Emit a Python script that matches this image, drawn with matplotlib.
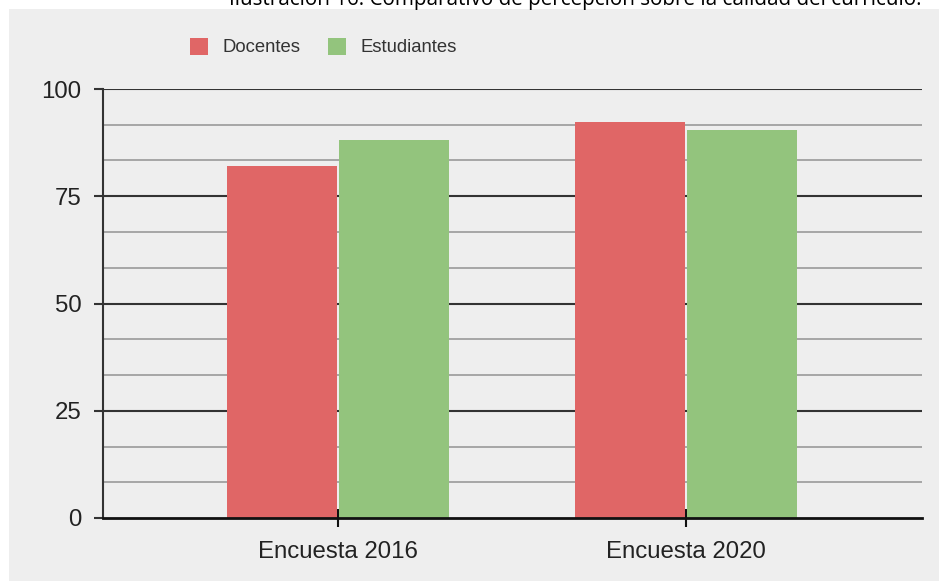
import matplotlib
matplotlib.use("Agg")
import matplotlib.pyplot as plt
from matplotlib.patches import Rectangle, Patch
import numpy as np

# Data
categories = ["Encuesta 2016", "Encuesta 2020"]
series_names = ["Docentes", "Estudiantes"]
docentes = [82, 92.3]
estudiantes = [88, 90.5]
y_ticks = [0, 25, 50, 75, 100]
title_text = "Ilustración 16: Comparativo de percepción sobre la calidad del currículo."

red = "#e06666"
green = "#93c47d"
panel = "#eeeeee"
text_col = "#222222"

W, H = 939, 585
fig = plt.figure(figsize=(W / 100, H / 100), dpi=100)
fig.patch.set_facecolor("white")

# grey panel behind the chart
fig.patches.append(Rectangle((9 / W, (H - 581) / H), 1 - 9 / W, (581 - 9) / H,
                             transform=fig.transFigure, facecolor=panel,
                             edgecolor="none", zorder=-5))

# caption, mostly clipped by the top edge
fig.text(575 / W, 1 - 5 / H, title_text, ha="center", va="baseline",
         fontsize=14.9, family="Open Sans", color="black")

ax = fig.add_axes([103 / W, (H - 518) / H, (922 - 103) / W, (518 - 89) / H])
ax.set_facecolor("none")
ax.set_zorder(2)

x = np.arange(len(categories))
bw = 0.316
off = 0.161
ax.bar(x - off, docentes, bw, color=red, zorder=3, label=series_names[0])
ax.bar(x + off, estudiantes, bw, color=green, zorder=3, label=series_names[1])

ax.set_xlim(-0.675, 1.678)
ax.set_ylim(0, 100)

# gridlines: major every 25, minor every 25/3
for v in np.arange(0, 100.01, 25 / 3):
    is_major = abs(v / 25 - round(v / 25)) < 1e-6
    if v == 0:
        continue
    ax.axhline(v, color="#333333" if is_major else "#999999",
               lw=1.5 if is_major else 1.2, zorder=1)

ax.set_yticks(y_ticks)
ax.set_yticklabels([str(t) for t in y_ticks])
ax.set_xticks(x)
ax.set_xticklabels(categories)

for s in ["top", "right"]:
    ax.spines[s].set_visible(False)
ax.spines["left"].set_color("#333333")
ax.spines["left"].set_linewidth(1.5)
ax.spines["bottom"].set_color("#111111")
ax.spines["bottom"].set_linewidth(2)
ax.spines["bottom"].set_zorder(4)

ax.tick_params(axis="y", length=6.5, width=1.5, color="#333333", pad=9,
               labelsize=17.3, labelcolor=text_col)
ax.tick_params(axis="x", direction="inout", length=13, width=1.5, color="#111111",
               pad=10, labelsize=17.3, labelcolor=text_col)
for lab in ax.get_xticklabels() + ax.get_yticklabels():
    lab.set_family("Liberation Sans")

handles = [Patch(facecolor=red, edgecolor="none"), Patch(facecolor=green, edgecolor="none")]
leg = fig.legend(handles, series_names, loc="center left",
                 bbox_to_anchor=(190 / W, 1 - 47 / H), ncol=2, frameon=False,
                 borderpad=0, borderaxespad=0, handlelength=0.95, handleheight=1.05,
                 handletextpad=0.8, columnspacing=1.5,
                 prop={"family": "Liberation Sans", "size": 13.3})
for t in leg.get_texts():
    t.set_color("#333333")

fig.savefig("out.png", dpi=100, facecolor=fig.get_facecolor())
